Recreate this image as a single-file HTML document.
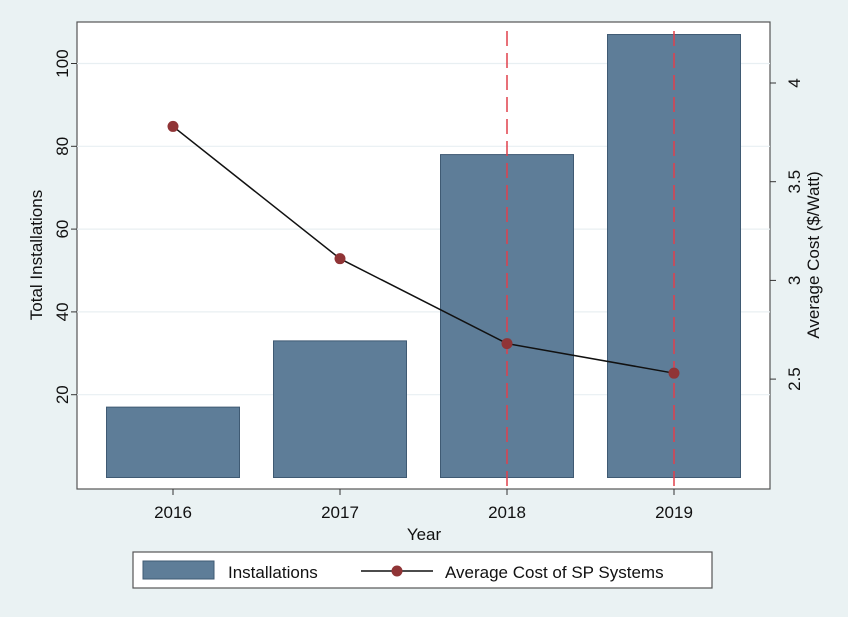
<!DOCTYPE html>
<html><head><meta charset="utf-8"><style>
body{margin:0;background:#eaf2f3;}
svg{display:block;font-family:"Liberation Sans",Arial,sans-serif;}
</style></head><body>
<svg id="c" width="848" height="617">
<rect x="0" y="0" width="848" height="617" fill="#eaf2f3"/>
<rect x="77" y="22" width="693" height="467" fill="#fff" stroke="#555" stroke-width="1.2"/>
<g id="grid"></g><g id="bars"></g><g id="vlines"></g><g id="line"></g><g id="axes"></g>
<text x="424" y="540" font-size="17" text-anchor="middle" fill="#111">Year</text>
<text transform="translate(42,255) rotate(-90)" font-size="17" text-anchor="middle" fill="#111">Total Installations</text>
<text transform="translate(819,255) rotate(-90)" font-size="17" text-anchor="middle" fill="#111">Average Cost ($/Watt)</text>
<g>
<rect x="133" y="552" width="579" height="36" fill="#fff" stroke="#555" stroke-width="1.2"/>
<rect x="143" y="561" width="71" height="18" fill="#5e7d98" stroke="#3f5a73"/>
<text x="228" y="578" font-size="17" fill="#111">Installations</text>
<line x1="361" y1="571" x2="433" y2="571" stroke="#111" stroke-width="1.5"/>
<circle cx="397" cy="571" r="5.5" fill="#903436"/>
<text x="445" y="578" font-size="17" fill="#111">Average Cost of SP Systems</text>
</g>
</svg>
<script>
const years = ['2016','2017','2018','2019'];
const installs = [17, 33, 78, 107];
const costs = [3.78, 3.11, 2.68, 2.53];
const leftTicks = [20, 40, 60, 80, 100];
const rightTicks = [2.5, 3, 3.5, 4];
const markedYears = ['2018','2019'];
const NS='http://www.w3.org/2000/svg';
function xS(i){return 173+i*167;}
function yL(v){return 477.5-v*4.14;}
function yR(v){return 83+(4-v)*197.4;}
function mk(tag,attrs,parent){const e=document.createElementNS(NS,tag);for(const k in attrs)e.setAttribute(k,attrs[k]);document.getElementById(parent).appendChild(e);return e;}
leftTicks.forEach(t=>{
 const g=mk('line',{x1:77,x2:770,y1:yL(t),y2:yL(t),stroke:'#e8eff2','stroke-width':1.2},'grid');
 
 
 const tk=mk('line',{x1:71,x2:77,y1:yL(t),y2:yL(t),stroke:'#333'},'axes');
 
 
 const tx=mk('text',{transform:`translate(68,${yL(t)}) rotate(-90)`,'font-size':17,'text-anchor':'middle',fill:'#111'},'axes');
 tx.textContent=t;
 
 
});
rightTicks.forEach(t=>{
 const tk=mk('line',{x1:770,x2:776,y1:yR(t),y2:yR(t),stroke:'#333'},'axes');
 
 
 const tx=mk('text',{transform:`translate(800,${yR(t)}) rotate(-90)`,'font-size':17,'text-anchor':'middle',fill:'#111'},'axes');
 tx.textContent=t;
 
 
});
years.forEach((y,i)=>{
 const b=mk('rect',{x:xS(i)-66.5,y:yL(installs[i]),width:133,height:yL(0)-yL(installs[i]),fill:'#5e7d98',stroke:'#3f5a73','stroke-width':1},'bars');
 
 
 const tk=mk('line',{x1:xS(i),x2:xS(i),y1:489,y2:495,stroke:'#333'},'axes');
 
 
 const tx=mk('text',{x:xS(i),y:518,'font-size':17,'text-anchor':'middle',fill:'#111'},'axes');
 tx.textContent=y;
 
 
});
markedYears.forEach(y=>{
 const i=years.indexOf(y);
 const l=mk('line',{x1:xS(i),x2:xS(i),y1:31,y2:489,stroke:'#e0404c','stroke-width':1.5,'stroke-dasharray':'15 7'},'vlines');
 
 
});
const pl=mk('polyline',{points:costs.map((c,i)=>xS(i)+','+yR(c)).join(' '),fill:'none',stroke:'#111','stroke-width':1.5},'line');


costs.forEach((c,i)=>{
 const m=mk('circle',{cx:xS(i),cy:yR(c),r:5.5,fill:'#903436'},'line');
 
 
});
</script>
</body></html>
